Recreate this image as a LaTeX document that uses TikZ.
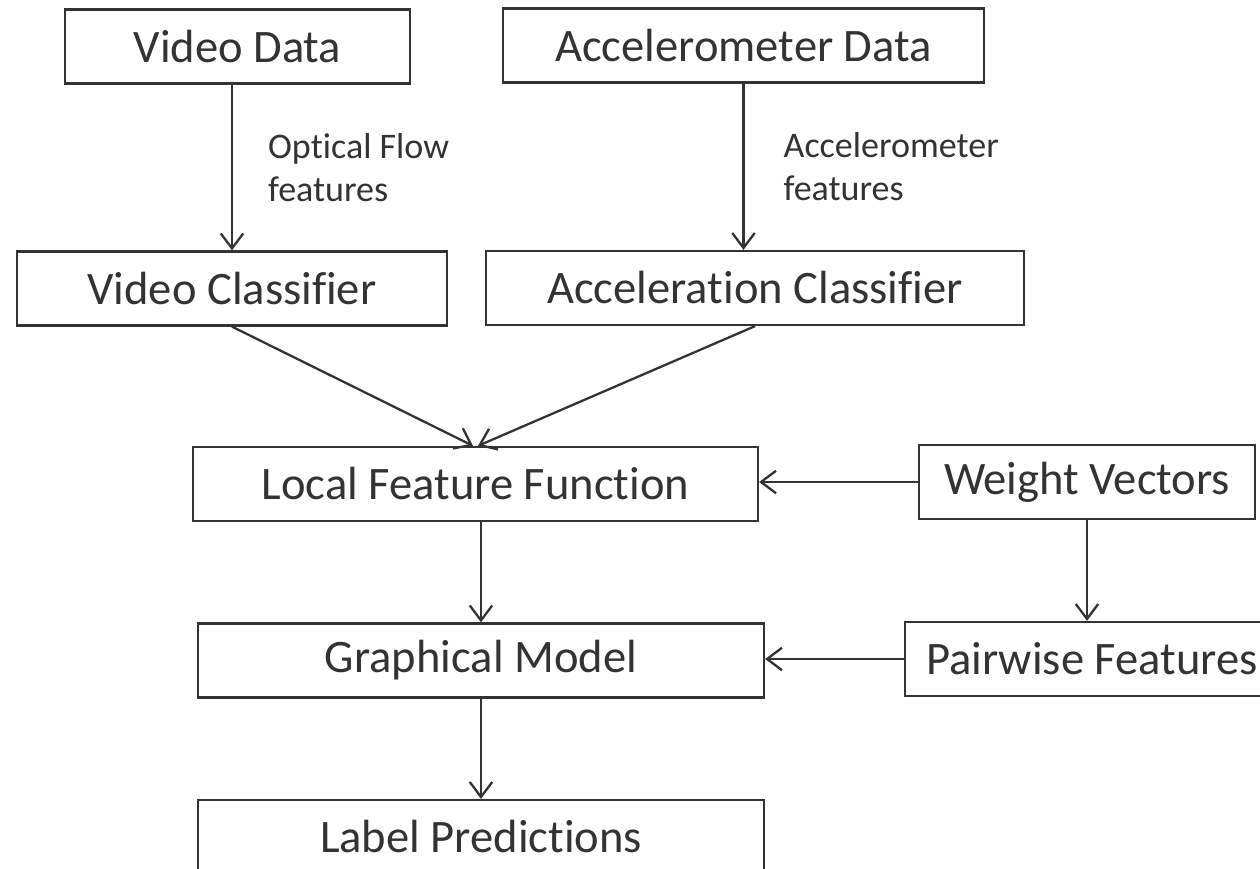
\documentclass[tikz,border=0pt]{standalone}
\usepackage{fontspec}
\setmainfont[Ligatures=NoCommon]{Carlito}
\usetikzlibrary{arrows.meta}

\begin{document}
\begin{tikzpicture}[
    box/.style={draw=black!80, line width=1.3pt, minimum height=1.48cm, inner sep=0pt,
                text=black!80, font=\fontsize{26.5}{32}\selectfont},
    lbl/.style={text=black!80, align=left, inner sep=0pt,
                font=\fontsize{20.5}{24.5}\selectfont},
    >={Straight Barb[length=0.3cm, width=0.45cm]}
]
    \clip (0, 0) rectangle (25.2, 17.38);

    \node[box, minimum width=6.9cm]   (vd)  at (4.75, 16.45)  {Video Data};
    \node[box, minimum width=9.62cm]  (ad)  at (14.87, 16.47) {Accelerometer Data};

    \node[box, minimum width=8.6cm]   (vc)  at (4.64, 11.61)  {Video Classifier};
    \node[box, minimum width=10.76cm] (ac)  at (15.10, 11.62) {Acceleration Classifier};

    \node[box, minimum width=11.3cm]  (lff) at (9.51, 7.70)   {Local Feature Function};
    \node[box, minimum width=6.72cm]  (wv)  at (21.74, 7.74)  {Weight Vectors};

    \node[box, minimum width=11.32cm] (gm)  at (9.62, 4.17)   {Graphical Model};
    \node[box, minimum width=7.48cm]  (pf)  at (21.84, 4.20)  {Pairwise Features};

    \node[box, minimum width=11.32cm] (lp)  at (9.62, 0.64)   {Label Predictions};

    \draw[black!80, line width=1.3pt, ->] (vd.south -| vc.north) -- (vc.north)
        node[lbl, midway, anchor=west, xshift=0.7cm] {Optical Flow\\features};
    \draw[black!80, line width=1.3pt, ->] (ad.south) -- (ad.south |- ac.north)
        node[lbl, midway, anchor=west, xshift=0.78cm] {Accelerometer\\features};

    \draw[black!80, line width=1.3pt, ->] (vc.south) -- ([xshift=-0.05cm]lff.north);
    \draw[black!80, line width=1.3pt, ->] (ac.south) -- ([xshift=0.05cm]lff.north);

    \draw[black!80, line width=1.3pt, ->] (wv.west) -- (wv.west -| lff.east);
    \draw[black!80, line width=1.3pt, ->] (wv.south) -- (wv.south |- pf.north);
    \draw[black!80, line width=1.3pt, ->] (pf.west) -- (pf.west -| gm.east);

    \draw[black!80, line width=1.3pt, ->] (gm.north |- lff.south) -- (gm.north);
    \draw[black!80, line width=1.3pt, ->] (gm.south) -- (lp.north);
\end{tikzpicture}
\end{document}
